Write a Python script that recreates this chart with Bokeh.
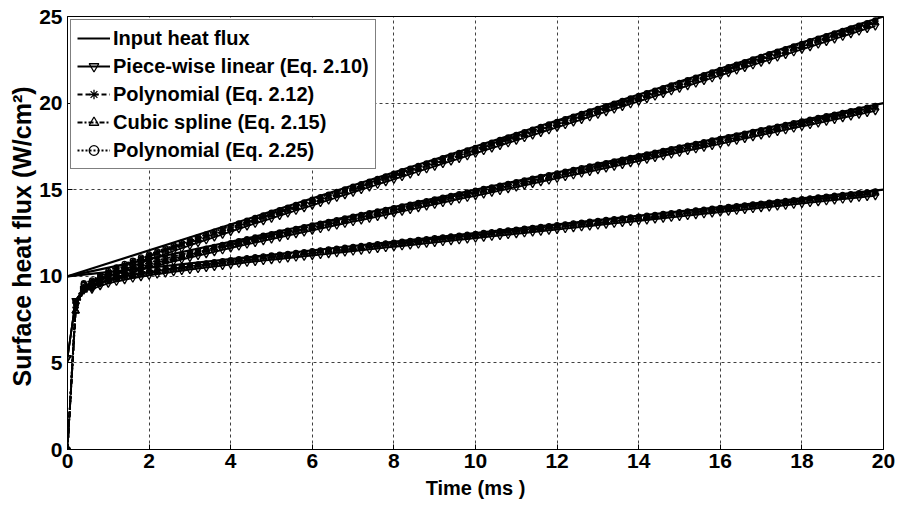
from bokeh.plotting import figure
from bokeh.models import Legend, LegendItem, FixedTicker
from bokeh.embed import file_html
from bokeh.resources import INLINE

# Sample times of the estimated surface heat flux (ms)
time_ms = [
    0.0, 0.2, 0.4, 0.6, 0.8, 1.0, 1.2, 1.4, 1.6, 1.8,
    2.0, 2.2, 2.4, 2.6, 2.8, 3.0, 3.2, 3.4, 3.6, 3.8,
    4.0, 4.2, 4.4, 4.6, 4.8, 5.0, 5.2, 5.4, 5.6, 5.8,
    6.0, 6.2, 6.4, 6.6, 6.8, 7.0, 7.2, 7.4, 7.6, 7.8,
    8.0, 8.2, 8.4, 8.6, 8.8, 9.0, 9.2, 9.4, 9.6, 9.8,
    10.0, 10.2, 10.4, 10.6, 10.8, 11.0, 11.2, 11.4, 11.6, 11.8,
    12.0, 12.2, 12.4, 12.6, 12.8, 13.0, 13.2, 13.4, 13.6, 13.8,
    14.0, 14.2, 14.4, 14.6, 14.8, 15.0, 15.2, 15.4, 15.6, 15.8,
    16.0, 16.2, 16.4, 16.6, 16.8, 17.0, 17.2, 17.4, 17.6, 17.8,
    18.0, 18.2, 18.4, 18.6, 18.8, 19.0, 19.2, 19.4, 19.6, 19.8,
]

# Input heat flux ramps (W/cm^2)
input_time_ms = [0.0, 20.0]
input_high = [10.0, 25.0]
input_mid = [10.0, 20.0]
input_low = [10.0, 15.0]

# ---- High ramp (10 -> 25 W/cm^2) ----
high_pwl = [
    5.3, 8.6, 9.3, 9.45, 9.75, 9.99, 10.2, 10.4, 10.59, 10.77,
    10.95, 11.12, 11.29, 11.46, 11.62, 11.78, 11.94, 12.1, 12.26, 12.42,
    12.58, 12.74, 12.9, 13.05, 13.2, 13.35, 13.5, 13.65, 13.8, 13.95,
    14.1, 14.25, 14.4, 14.55, 14.7, 14.85, 15.0, 15.15, 15.3, 15.45,
    15.6, 15.75, 15.9, 16.05, 16.2, 16.35, 16.5, 16.65, 16.8, 16.95,
    17.1, 17.25, 17.4, 17.55, 17.7, 17.85, 18.0, 18.15, 18.3, 18.45,
    18.6, 18.75, 18.9, 19.05, 19.2, 19.35, 19.5, 19.65, 19.8, 19.95,
    20.1, 20.25, 20.4, 20.55, 20.7, 20.85, 21.0, 21.15, 21.3, 21.45,
    21.6, 21.75, 21.9, 22.05, 22.2, 22.35, 22.5, 22.65, 22.8, 22.95,
    23.1, 23.25, 23.4, 23.55, 23.7, 23.85, 24.0, 24.15, 24.3, 24.45,
]
high_poly212 = [
    0.0, 8.2, 9.4, 9.7, 10.0, 10.24, 10.45, 10.65, 10.84, 11.02,
    11.2, 11.37, 11.54, 11.71, 11.87, 12.03, 12.19, 12.35, 12.51, 12.67,
    12.83, 12.99, 13.15, 13.3, 13.45, 13.6, 13.75, 13.9, 14.05, 14.2,
    14.35, 14.5, 14.65, 14.8, 14.95, 15.1, 15.25, 15.4, 15.55, 15.7,
    15.85, 16.0, 16.15, 16.3, 16.45, 16.6, 16.75, 16.9, 17.05, 17.2,
    17.35, 17.5, 17.65, 17.8, 17.95, 18.1, 18.25, 18.4, 18.55, 18.7,
    18.85, 19.0, 19.15, 19.3, 19.45, 19.6, 19.75, 19.9, 20.05, 20.2,
    20.35, 20.5, 20.65, 20.8, 20.95, 21.1, 21.25, 21.4, 21.55, 21.7,
    21.85, 22.0, 22.15, 22.3, 22.45, 22.6, 22.75, 22.9, 23.05, 23.2,
    23.35, 23.5, 23.65, 23.8, 23.95, 24.1, 24.25, 24.4, 24.55, 24.7,
]
high_spline = [
    0.0, 8.0, 9.3, 9.63, 9.93, 10.17, 10.38, 10.58, 10.77, 10.95,
    11.13, 11.3, 11.47, 11.64, 11.8, 11.96, 12.12, 12.28, 12.44, 12.6,
    12.76, 12.92, 13.08, 13.23, 13.38, 13.53, 13.68, 13.83, 13.98, 14.13,
    14.28, 14.43, 14.58, 14.73, 14.88, 15.03, 15.18, 15.33, 15.48, 15.63,
    15.78, 15.93, 16.08, 16.23, 16.38, 16.53, 16.68, 16.83, 16.98, 17.13,
    17.28, 17.43, 17.58, 17.73, 17.88, 18.03, 18.18, 18.33, 18.48, 18.63,
    18.78, 18.93, 19.08, 19.23, 19.38, 19.53, 19.68, 19.83, 19.98, 20.13,
    20.28, 20.43, 20.58, 20.73, 20.88, 21.03, 21.18, 21.33, 21.48, 21.63,
    21.78, 21.93, 22.08, 22.23, 22.38, 22.53, 22.68, 22.83, 22.98, 23.13,
    23.28, 23.43, 23.58, 23.73, 23.88, 24.03, 24.18, 24.33, 24.48, 24.63,
]
high_poly225 = [
    0.0, 8.5, 9.6, 9.77, 10.07, 10.31, 10.52, 10.72, 10.91, 11.09,
    11.27, 11.44, 11.61, 11.78, 11.94, 12.1, 12.26, 12.42, 12.58, 12.74,
    12.9, 13.06, 13.22, 13.37, 13.52, 13.67, 13.82, 13.97, 14.12, 14.27,
    14.42, 14.57, 14.72, 14.87, 15.02, 15.17, 15.32, 15.47, 15.62, 15.77,
    15.92, 16.07, 16.22, 16.37, 16.52, 16.67, 16.82, 16.97, 17.12, 17.27,
    17.42, 17.57, 17.72, 17.87, 18.02, 18.17, 18.32, 18.47, 18.62, 18.77,
    18.92, 19.07, 19.22, 19.37, 19.52, 19.67, 19.82, 19.97, 20.12, 20.27,
    20.42, 20.57, 20.72, 20.87, 21.02, 21.17, 21.32, 21.47, 21.62, 21.77,
    21.92, 22.07, 22.22, 22.37, 22.52, 22.67, 22.82, 22.97, 23.12, 23.27,
    23.42, 23.57, 23.72, 23.87, 24.02, 24.17, 24.32, 24.47, 24.62, 24.77,
]

# ---- Middle ramp (10 -> 20 W/cm^2) ----
mid_pwl = [
    5.3, 8.6, 9.25, 9.35, 9.6, 9.79, 9.95, 10.1, 10.24, 10.37,
    10.5, 10.62, 10.74, 10.86, 10.97, 11.08, 11.19, 11.3, 11.41, 11.52,
    11.63, 11.74, 11.85, 11.95, 12.05, 12.15, 12.25, 12.35, 12.45, 12.55,
    12.65, 12.75, 12.85, 12.95, 13.05, 13.15, 13.25, 13.35, 13.45, 13.55,
    13.65, 13.75, 13.85, 13.95, 14.05, 14.15, 14.25, 14.35, 14.45, 14.55,
    14.65, 14.75, 14.85, 14.95, 15.05, 15.15, 15.25, 15.35, 15.45, 15.55,
    15.65, 15.75, 15.85, 15.95, 16.05, 16.15, 16.25, 16.35, 16.45, 16.55,
    16.65, 16.75, 16.85, 16.95, 17.05, 17.15, 17.25, 17.35, 17.45, 17.55,
    17.65, 17.75, 17.85, 17.95, 18.05, 18.15, 18.25, 18.35, 18.45, 18.55,
    18.65, 18.75, 18.85, 18.95, 19.05, 19.15, 19.25, 19.35, 19.45, 19.55,
]
mid_poly212 = [
    0.0, 8.2, 9.35, 9.58, 9.83, 10.02, 10.18, 10.33, 10.47, 10.6,
    10.73, 10.85, 10.97, 11.09, 11.2, 11.31, 11.42, 11.53, 11.64, 11.75,
    11.86, 11.97, 12.08, 12.18, 12.28, 12.38, 12.48, 12.58, 12.68, 12.78,
    12.88, 12.98, 13.08, 13.18, 13.28, 13.38, 13.48, 13.58, 13.68, 13.78,
    13.88, 13.98, 14.08, 14.18, 14.28, 14.38, 14.48, 14.58, 14.68, 14.78,
    14.88, 14.98, 15.08, 15.18, 15.28, 15.38, 15.48, 15.58, 15.68, 15.78,
    15.88, 15.98, 16.08, 16.18, 16.28, 16.38, 16.48, 16.58, 16.68, 16.78,
    16.88, 16.98, 17.08, 17.18, 17.28, 17.38, 17.48, 17.58, 17.68, 17.78,
    17.88, 17.98, 18.08, 18.18, 18.28, 18.38, 18.48, 18.58, 18.68, 18.78,
    18.88, 18.98, 19.08, 19.18, 19.28, 19.38, 19.48, 19.58, 19.68, 19.78,
]
mid_spline = [
    0.0, 8.0, 9.25, 9.52, 9.77, 9.96, 10.12, 10.27, 10.41, 10.54,
    10.67, 10.79, 10.91, 11.03, 11.14, 11.25, 11.36, 11.47, 11.58, 11.69,
    11.8, 11.91, 12.02, 12.12, 12.22, 12.32, 12.42, 12.52, 12.62, 12.72,
    12.82, 12.92, 13.02, 13.12, 13.22, 13.32, 13.42, 13.52, 13.62, 13.72,
    13.82, 13.92, 14.02, 14.12, 14.22, 14.32, 14.42, 14.52, 14.62, 14.72,
    14.82, 14.92, 15.02, 15.12, 15.22, 15.32, 15.42, 15.52, 15.62, 15.72,
    15.82, 15.92, 16.02, 16.12, 16.22, 16.32, 16.42, 16.52, 16.62, 16.72,
    16.82, 16.92, 17.02, 17.12, 17.22, 17.32, 17.42, 17.52, 17.62, 17.72,
    17.82, 17.92, 18.02, 18.12, 18.22, 18.32, 18.42, 18.52, 18.62, 18.72,
    18.82, 18.92, 19.02, 19.12, 19.22, 19.32, 19.42, 19.52, 19.62, 19.72,
]
mid_poly225 = [
    0.0, 8.5, 9.55, 9.64, 9.89, 10.08, 10.24, 10.39, 10.53, 10.66,
    10.79, 10.91, 11.03, 11.15, 11.26, 11.37, 11.48, 11.59, 11.7, 11.81,
    11.92, 12.03, 12.14, 12.24, 12.34, 12.44, 12.54, 12.64, 12.74, 12.84,
    12.94, 13.04, 13.14, 13.24, 13.34, 13.44, 13.54, 13.64, 13.74, 13.84,
    13.94, 14.04, 14.14, 14.24, 14.34, 14.44, 14.54, 14.64, 14.74, 14.84,
    14.94, 15.04, 15.14, 15.24, 15.34, 15.44, 15.54, 15.64, 15.74, 15.84,
    15.94, 16.04, 16.14, 16.24, 16.34, 16.44, 16.54, 16.64, 16.74, 16.84,
    16.94, 17.04, 17.14, 17.24, 17.34, 17.44, 17.54, 17.64, 17.74, 17.84,
    17.94, 18.04, 18.14, 18.24, 18.34, 18.44, 18.54, 18.64, 18.74, 18.84,
    18.94, 19.04, 19.14, 19.24, 19.34, 19.44, 19.54, 19.64, 19.74, 19.84,
]

# ---- Low ramp (10 -> 15 W/cm^2) ----
low_pwl = [
    5.3, 8.6, 9.2, 9.25, 9.45, 9.59, 9.7, 9.8, 9.89, 9.97,
    10.05, 10.12, 10.19, 10.26, 10.32, 10.38, 10.44, 10.5, 10.56, 10.62,
    10.68, 10.74, 10.8, 10.85, 10.9, 10.95, 11.0, 11.05, 11.1, 11.15,
    11.2, 11.25, 11.3, 11.35, 11.4, 11.45, 11.5, 11.55, 11.6, 11.65,
    11.7, 11.75, 11.8, 11.85, 11.9, 11.95, 12.0, 12.05, 12.1, 12.15,
    12.2, 12.25, 12.3, 12.35, 12.4, 12.45, 12.5, 12.55, 12.6, 12.65,
    12.7, 12.75, 12.8, 12.85, 12.9, 12.95, 13.0, 13.05, 13.1, 13.15,
    13.2, 13.25, 13.3, 13.35, 13.4, 13.45, 13.5, 13.55, 13.6, 13.65,
    13.7, 13.75, 13.8, 13.85, 13.9, 13.95, 14.0, 14.05, 14.1, 14.15,
    14.2, 14.25, 14.3, 14.35, 14.4, 14.45, 14.5, 14.55, 14.6, 14.65,
]
low_poly212 = [
    0.0, 8.2, 9.3, 9.45, 9.65, 9.79, 9.9, 10.0, 10.09, 10.17,
    10.25, 10.32, 10.39, 10.46, 10.52, 10.58, 10.64, 10.7, 10.76, 10.82,
    10.88, 10.94, 11.0, 11.05, 11.1, 11.15, 11.2, 11.25, 11.3, 11.35,
    11.4, 11.45, 11.5, 11.55, 11.6, 11.65, 11.7, 11.75, 11.8, 11.85,
    11.9, 11.95, 12.0, 12.05, 12.1, 12.15, 12.2, 12.25, 12.3, 12.35,
    12.4, 12.45, 12.5, 12.55, 12.6, 12.65, 12.7, 12.75, 12.8, 12.85,
    12.9, 12.95, 13.0, 13.05, 13.1, 13.15, 13.2, 13.25, 13.3, 13.35,
    13.4, 13.45, 13.5, 13.55, 13.6, 13.65, 13.7, 13.75, 13.8, 13.85,
    13.9, 13.95, 14.0, 14.05, 14.1, 14.15, 14.2, 14.25, 14.3, 14.35,
    14.4, 14.45, 14.5, 14.55, 14.6, 14.65, 14.7, 14.75, 14.8, 14.85,
]
low_spline = [
    0.0, 8.0, 9.2, 9.4, 9.6, 9.74, 9.85, 9.95, 10.04, 10.12,
    10.2, 10.27, 10.34, 10.41, 10.47, 10.53, 10.59, 10.65, 10.71, 10.77,
    10.83, 10.89, 10.95, 11.0, 11.05, 11.1, 11.15, 11.2, 11.25, 11.3,
    11.35, 11.4, 11.45, 11.5, 11.55, 11.6, 11.65, 11.7, 11.75, 11.8,
    11.85, 11.9, 11.95, 12.0, 12.05, 12.1, 12.15, 12.2, 12.25, 12.3,
    12.35, 12.4, 12.45, 12.5, 12.55, 12.6, 12.65, 12.7, 12.75, 12.8,
    12.85, 12.9, 12.95, 13.0, 13.05, 13.1, 13.15, 13.2, 13.25, 13.3,
    13.35, 13.4, 13.45, 13.5, 13.55, 13.6, 13.65, 13.7, 13.75, 13.8,
    13.85, 13.9, 13.95, 14.0, 14.05, 14.1, 14.15, 14.2, 14.25, 14.3,
    14.35, 14.4, 14.45, 14.5, 14.55, 14.6, 14.65, 14.7, 14.75, 14.8,
]
low_poly225 = [
    0.0, 8.5, 9.5, 9.5, 9.7, 9.84, 9.95, 10.05, 10.14, 10.22,
    10.3, 10.37, 10.44, 10.51, 10.57, 10.63, 10.69, 10.75, 10.81, 10.87,
    10.93, 10.99, 11.05, 11.1, 11.15, 11.2, 11.25, 11.3, 11.35, 11.4,
    11.45, 11.5, 11.55, 11.6, 11.65, 11.7, 11.75, 11.8, 11.85, 11.9,
    11.95, 12.0, 12.05, 12.1, 12.15, 12.2, 12.25, 12.3, 12.35, 12.4,
    12.45, 12.5, 12.55, 12.6, 12.65, 12.7, 12.75, 12.8, 12.85, 12.9,
    12.95, 13.0, 13.05, 13.1, 13.15, 13.2, 13.25, 13.3, 13.35, 13.4,
    13.45, 13.5, 13.55, 13.6, 13.65, 13.7, 13.75, 13.8, 13.85, 13.9,
    13.95, 14.0, 14.05, 14.1, 14.15, 14.2, 14.25, 14.3, 14.35, 14.4,
    14.45, 14.5, 14.55, 14.6, 14.65, 14.7, 14.75, 14.8, 14.85, 14.9,
]

x_ticks = [0, 2, 4, 6, 8, 10, 12, 14, 16, 18, 20]
y_ticks = [0, 5, 10, 15, 20, 25]

FONT = "Liberation Sans"

p = figure(
    width=899, height=506,
    x_range=(0, 20), y_range=(0, 25),
    output_backend="svg", toolbar_location=None,
    min_border_left=67, min_border_right=16,
    min_border_top=16, min_border_bottom=57,
    background_fill_color="white", border_fill_color="white",
)
p.outline_line_color = "black"
p.outline_line_width = 1
p.outline_line_alpha = 1

p.xaxis.ticker = FixedTicker(ticks=x_ticks)
p.yaxis.ticker = FixedTicker(ticks=y_ticks)
p.xaxis.axis_label = "Time (ms )"
p.yaxis.axis_label = "Surface heat flux  (W/cm²)"

for ax in (p.xaxis[0], p.yaxis[0]):
    ax.axis_line_color = "black"
    ax.major_tick_in = 5
    ax.major_tick_out = 0
    ax.major_tick_line_color = "black"
    ax.minor_tick_line_color = None
    ax.major_label_text_font = FONT
    ax.major_label_text_font_style = "bold"
    ax.major_label_text_font_size = "21px"
    ax.major_label_text_color = "black"
    ax.axis_label_text_font = FONT
    ax.axis_label_text_font_style = "bold"
    ax.axis_label_text_color = "black"
p.xaxis.major_label_standoff = 4
p.yaxis.major_label_standoff = 5
p.xaxis.axis_label_text_font_size = "20px"
p.xaxis.axis_label_standoff = 6
p.yaxis.axis_label_text_font_size = "25px"
p.yaxis.axis_label_standoff = 0

p.grid.grid_line_color = "black"
p.grid.grid_line_alpha = 0.75
p.grid.grid_line_width = 1
p.grid.grid_line_dash = "3 3"

# Four estimation methods, each drawn for the three ramps
methods = [
    ("Piece-wise linear (Eq. 2.10)", "solid", "inverted_triangle", 7,
     [high_pwl, mid_pwl, low_pwl]),
    ("Polynomial (Eq. 2.12)", "5 3", "asterisk", 6,
     [high_poly212, mid_poly212, low_poly212]),
    ("Cubic spline (Eq. 2.15)", "5 2 2 2", "triangle", 7,
     [high_spline, mid_spline, low_spline]),
    ("Polynomial (Eq. 2.25)", "2 2", "circle", 5,
     [high_poly225, mid_poly225, low_poly225]),
]

legend_items = []
for label, dash, marker, msize, series in methods:
    first = None
    for values in series:
        ln = p.line(time_ms, values, line_color="black", line_width=1.8,
                    line_dash=dash)
        sc = p.scatter(time_ms, values, marker=marker, size=msize,
                       line_color="black", line_width=1.3, fill_color=None)
        if first is None:
            first = [ln, sc]
    legend_items.append(LegendItem(label=label, renderers=first))

input_renderers = []
for values in (input_high, input_mid, input_low):
    input_renderers.append(
        p.line(input_time_ms, values, line_color="black", line_width=2.2)
    )

legend = Legend(
    items=[LegendItem(label="Input heat flux", renderers=[input_renderers[0]])]
    + legend_items,
    location="top_left",
    margin=3,
    padding=6,
    spacing=4,
    glyph_width=33,
    glyph_height=24,
    label_height=24,
    label_standoff=3,
    label_text_font=FONT,
    label_text_font_style="bold",
    label_text_font_size="20px",
    label_text_color="black",
    border_line_color="black",
    border_line_width=1,
    background_fill_color="white",
    background_fill_alpha=1,
)
p.add_layout(legend)

open("out.html", "w").write(file_html(p, INLINE))
